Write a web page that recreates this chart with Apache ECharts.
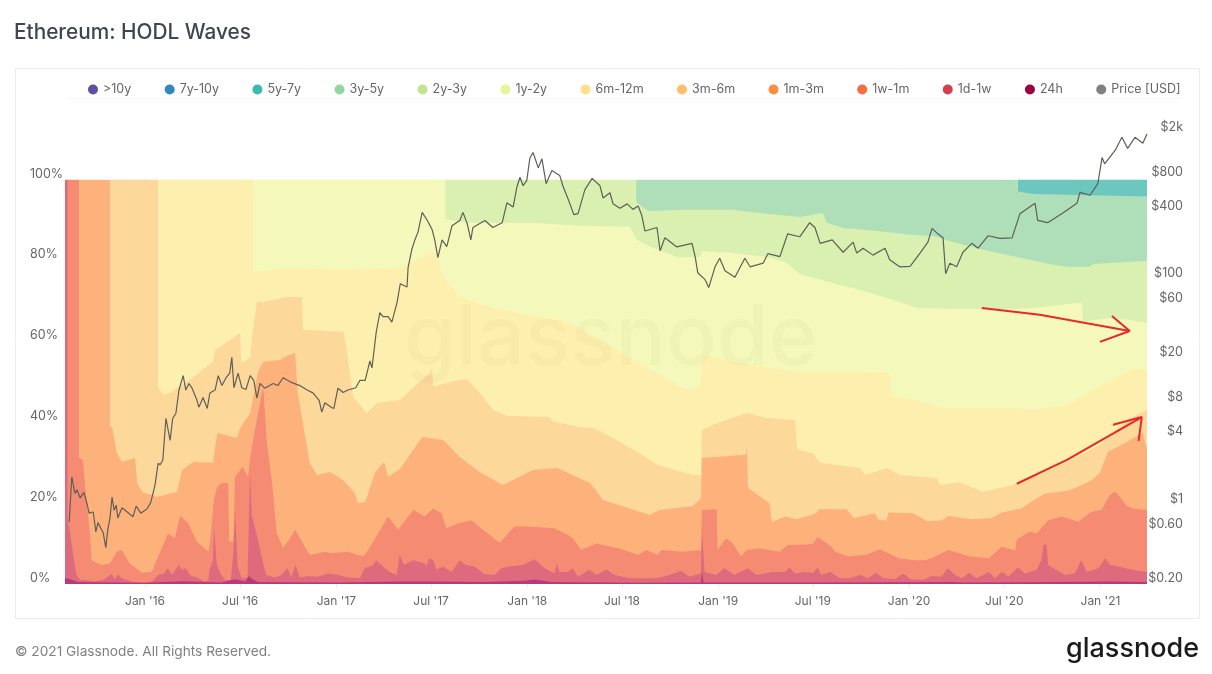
<!DOCTYPE html>
<html lang="en">

<head>
    <meta charset="utf-8">
    <title>Ethereum: HODL Waves</title>
    <script src="https://cdn.jsdelivr.net/npm/echarts@6/dist/echarts.min.js"></script>
    <style>
        html, body { margin: 0; padding: 0; background: #fff; }
    </style>
</head>

<body>
<div id="chart" style="width: 1212px;height:674px;"></div>

<script>
    // every series is [days since 2015-08-01, value]
    // wave values are the cumulative top edge of each age band in %, price is in USD
    const startDay = Date.UTC(2015, 7, 1);
    const lastDay = 2069;

    const legendNames = ['>10y', '7y-10y', '5y-7y', '3y-5y', '2y-3y', '1y-2y', '6m-12m', '3m-6m', '1m-3m', '1w-1m', '1d-1w', '24h', 'Price [USD]'];
    const tickDates = ['2016-01-01', '2016-07-01', '2017-01-01', '2017-07-01', '2018-01-01', '2018-07-01', '2019-01-01', '2019-07-01', '2020-01-01', '2020-07-01', '2021-01-01'];
    const tickNames = ["Jan '16", "Jul '16", "Jan '17", "Jul '17", "Jan '18", "Jul '18", "Jan '19", "Jul '19", "Jan '20", "Jul '20", "Jan '21"];
    const priceTicks = [0.2, 0.6, 1, 4, 8, 20, 60, 100, 400, 800, 2000];

    const band5y7y = [[1822, 100], [2069, 100]];
    const band3y5y = [[1092, 100], [1822, 100], [1822, 97.1], [1851, 96.5], [1960, 96.2], [2069, 95.9]];
    const band2y3y = [[727, 100], [1092, 100], [1092, 94.6], [1115, 92.3], [1182, 92.6], [1277, 92.6], [1342, 91.6], [1405, 90.8], [1449, 91.8], [1457, 89.4], [1488, 88.1], [1533, 87.6], [1583, 86.9], [1616, 86.4], [1660, 86.1], [1705, 84.4], [1755, 82.7], [1820, 80.9], [1883, 79.2], [1916, 78.5], [1960, 78.5], [1966, 79.2], [2069, 80]];
    const band1y2y = [[361, 100], [727, 100], [727, 90.3], [769, 89.4], [895, 89.4], [990, 88.6], [1080, 88.4], [1094, 85.1], [1124, 83.2], [1170, 80.9], [1214, 80.9], [1218, 82.4], [1277, 81.9], [1342, 80.9], [1377, 79.7], [1405, 76.7], [1468, 74.5], [1533, 72.3], [1596, 69.8], [1629, 68.3], [1692, 68.1], [1725, 68.1], [1788, 68], [1851, 68.3], [1941, 69.6], [1945, 69.6], [1946, 64.9], [1998, 65.8], [2036, 65.3], [2069, 64.6]];
    const band6m12m = [[178, 100], [361, 100], [361, 77.2], [424, 78.2], [526, 77.7], [641, 78.2], [679, 80.7], [704, 82.2], [717, 79], [723, 76], [755, 71], [799, 69], [870, 67], [960, 64.9], [990, 62.9], [1086, 55.4], [1182, 48.5], [1214, 48.5], [1218, 56.7], [1277, 55], [1342, 53.5], [1405, 52.5], [1488, 52.5], [1577, 52.2], [1581, 46.3], [1629, 45.5], [1679, 43.6], [1788, 43.6], [1851, 43.1], [1916, 44.3], [1979, 48.8], [2042, 53.2], [2069, 53]];
    const band3m6m = [[86, 100], [178, 100], [178, 48.8], [187, 46.8], [201, 47.3], [243, 51], [283, 55], [287, 57.9], [335, 62.1], [337, 54.7], [354, 55.9], [358, 61.6], [367, 69.8], [379, 69.8], [424, 71], [453, 71], [455, 62.9], [532, 62.4], [535, 61.1], [551, 46.3], [577, 42.3], [597, 44.8], [641, 45.5], [665, 48.5], [698, 52.2], [702, 53.5], [704, 48.8], [736, 50], [769, 50.7], [793, 47.3], [818, 43.1], [845, 41.6], [927, 41.3], [931, 40.3], [979, 38.9], [1010, 38.6], [1055, 35.6], [1113, 31.2], [1132, 29.5], [1201, 27], [1216, 27], [1218, 38.1], [1239, 39.4], [1304, 42.3], [1342, 41.1], [1396, 40.6], [1400, 33.2], [1430, 32.4], [1444, 30], [1520, 28.7], [1530, 27], [1572, 28.7], [1596, 27], [1667, 26.2], [1673, 24.5], [1711, 25.2], [1755, 22.8], [1813, 24.5], [1864, 27], [1916, 30.2], [1979, 34.4], [2017, 38.9], [2042, 41.3], [2069, 43.1]];
    const band1m3m = [[27, 100], [86, 100], [86, 38.9], [90, 38.9], [99, 32.4], [109, 30.2], [134, 31.2], [138, 25], [149, 22.5], [168, 22], [176, 21.5], [214, 22.8], [224, 28.2], [245, 30.2], [283, 30], [291, 37.4], [329, 36.1], [335, 38.6], [354, 42.3], [369, 52.5], [379, 55], [411, 55.4], [421, 56.2], [440, 57.2], [445, 47.3], [468, 30], [482, 27], [507, 27.7], [532, 25.7], [554, 22.5], [560, 20], [574, 20.3], [593, 27.5], [610, 30.2], [618, 26.5], [641, 28.5], [683, 36.4], [723, 35.6], [755, 31.4], [793, 27.7], [837, 24.5], [895, 28.2], [941, 28.7], [1004, 25], [1029, 20.8], [1080, 18.7], [1118, 17.1], [1137, 18.3], [1201, 19.3], [1210, 20.4], [1216, 21.3], [1218, 31.2], [1296, 31.9], [1302, 31.9], [1304, 33.9], [1306, 23.8], [1347, 20], [1352, 15.4], [1377, 16.7], [1399, 16], [1437, 17.5], [1441, 18.5], [1495, 18.5], [1508, 16.3], [1549, 17.5], [1555, 16], [1571, 15.7], [1574, 17.7], [1622, 17.5], [1648, 15.6], [1676, 15.7], [1689, 16.8], [1734, 16], [1772, 16.3], [1791, 17.7], [1829, 18.7], [1848, 20.4], [1874, 22.4], [1918, 23.1], [1938, 24.1], [1963, 25.7], [1979, 27.5], [1994, 32.7], [2027, 34.9], [2061, 37.4], [2069, 33.2]];
    const band1w1m = [[4, 100], [27, 100], [27, 31.2], [34, 30.7], [48, 11.7], [51, 5.9], [70, 4.7], [86, 5.1], [99, 8], [108, 8.4], [124, 5.1], [147, 2.8], [166, 3], [175, 5.9], [197, 12.5], [210, 11.3], [220, 16.8], [236, 15], [252, 10.5], [274, 8], [277, 10], [285, 21], [291, 24], [300, 25], [312, 25], [314, 10.5], [322, 10.5], [325, 26.5], [340, 29], [350, 26.5], [354, 31], [363, 38], [379, 48.8], [386, 35], [396, 25], [405, 12.5], [417, 9], [429, 11], [440, 13.4], [468, 7.2], [497, 8], [510, 7.6], [541, 8], [570, 6.8], [580, 8.4], [618, 16.7], [637, 13.4], [666, 18.3], [688, 16.7], [704, 18.7], [720, 17.5], [729, 13.8], [752, 15], [777, 15.8], [799, 13.4], [831, 10.2], [860, 14.2], [882, 14.2], [936, 13.8], [962, 12.1], [971, 11.3], [987, 8.4], [1016, 10], [1060, 8.8], [1096, 7.2], [1111, 8.4], [1134, 7.2], [1140, 8.4], [1181, 8], [1216, 8.4], [1218, 18.3], [1246, 18.5], [1248, 8.4], [1264, 11.3], [1277, 10], [1293, 6.8], [1303, 8.4], [1328, 8.8], [1366, 8], [1383, 9.7], [1415, 9.7], [1431, 10], [1439, 11.6], [1466, 9.2], [1473, 8], [1498, 6.8], [1530, 7.2], [1559, 8.6], [1594, 6.4], [1625, 5.9], [1645, 5.9], [1657, 6.4], [1689, 8.4], [1715, 7.4], [1730, 6.8], [1766, 6.4], [1791, 9.2], [1817, 8.3], [1820, 11], [1845, 13], [1858, 12.5], [1880, 15.8], [1906, 16.7], [1938, 15.4], [1963, 17.9], [1982, 18.3], [1998, 22], [2008, 22.9], [2017, 21.6], [2030, 19.3], [2043, 18.7], [2069, 18.3]];
    const band1d1w = [[0, 100], [5, 100], [5, 15.8], [10, 12.5], [16, 6.8], [22, 2.2], [29, 1], [38, 1], [57, 0.6], [73, 1], [80, 1.6], [89, 2.5], [96, 1.2], [101, 2.5], [108, 1.4], [127, 0.6], [150, 0.3], [167, 0.6], [178, 2.2], [188, 2.5], [197, 3.9], [205, 2.2], [217, 4.7], [223, 3.5], [231, 3.9], [239, 2.2], [252, 1.6], [268, 0.6], [274, 1], [277, 3.9], [283, 5.9], [285, 14], [290, 5.1], [296, 3], [306, 1], [317, 1], [322, 7.6], [325, 18], [330, 4.3], [338, 1.4], [349, 1.6], [352, 18], [354, 27.5], [357, 17], [367, 12], [379, 5.1], [385, 2.2], [401, 1.6], [414, 2.2], [425, 3.9], [433, 1.8], [441, 4.7], [449, 1.6], [465, 2], [484, 1.8], [503, 2.6], [522, 2.2], [541, 1.6], [564, 1.4], [573, 3.9], [589, 4.7], [595, 5.9], [605, 4.7], [621, 3], [634, 2.2], [640, 7.2], [648, 4.7], [666, 5.9], [688, 5.1], [691, 4.3], [696, 6.4], [704, 5.9], [710, 3.5], [723, 4.3], [739, 3], [755, 5.9], [767, 4.7], [783, 4.3], [802, 2.5], [822, 2.2], [834, 3.9], [850, 4.3], [876, 4.7], [898, 6.1], [917, 3.9], [936, 2.6], [941, 5.1], [945, 3], [962, 3], [971, 3.9], [981, 1.8], [1003, 3.6], [1016, 2.2], [1035, 3.6], [1051, 2.2], [1080, 1.4], [1105, 1.4], [1131, 1.4], [1150, 2], [1178, 3.3], [1194, 1.8], [1216, 2.6], [1218, 13], [1223, 3], [1245, 2.2], [1261, 3.9], [1280, 2.2], [1306, 3.9], [1322, 2.2], [1354, 3], [1377, 3], [1385, 4.1], [1396, 2.6], [1412, 3], [1431, 2.8], [1439, 4.1], [1446, 2.2], [1463, 3], [1482, 1.4], [1501, 1.4], [1520, 2.2], [1536, 1.4], [1550, 2.8], [1565, 1.4], [1587, 1.2], [1603, 2.6], [1616, 1.2], [1641, 1], [1657, 2], [1676, 1.8], [1688, 3.9], [1702, 2.2], [1715, 1.4], [1729, 2.8], [1743, 1.4], [1767, 3], [1778, 1.4], [1792, 3], [1804, 1.8], [1822, 4.1], [1836, 2.6], [1858, 3.5], [1867, 5.9], [1871, 9.7], [1877, 9.7], [1880, 4.7], [1890, 3.9], [1912, 2.2], [1931, 2.6], [1943, 5.9], [1954, 3], [1976, 3.9], [1989, 6.4], [1998, 4.7], [2014, 4.3], [2040, 3.5], [2069, 3]];
    const band24h = [[0, 1.5], [10, 1.2], [25, 0.5], [150, 0.3], [225, 0.7], [300, 0.4], [325, 1.2], [345, 0.6], [352, 2], [358, 1.2], [370, 0.5], [520, 0.4], [640, 0.6], [700, 0.6], [800, 0.5], [880, 0.8], [898, 1.1], [930, 0.5], [1100, 0.3], [1216, 0.4], [1218, 3], [1221, 0.4], [1430, 0.4], [1700, 0.5], [1720, 0.4], [1900, 0.5], [2000, 0.6], [2069, 0.5]];

    const price = [[8, 0.71], [10, 0.70], [13, 1.78], [19, 1.27], [23, 1.37], [29, 1.16], [36, 1.30], [42, 1.04], [46, 0.85], [54, 0.87], [59, 0.58], [63, 0.70], [73, 0.57], [78, 0.42], [82, 0.61], [86, 0.77], [90, 1.18], [94, 0.90], [98, 1.0], [101, 0.77], [109, 0.95], [119, 0.87], [130, 0.79], [136, 0.98], [145, 0.85], [157, 0.93], [164, 1.06], [172, 1.50], [178, 2.35], [182, 2.28], [187, 2.5], [193, 5.9], [201, 3.75], [206, 5.9], [212, 6.5], [218, 10.5], [226, 14.1], [231, 10.5], [237, 12], [243, 10.9], [252, 8.6], [256, 7.4], [264, 9.0], [272, 7.2], [277, 9.9], [287, 10.5], [293, 14.1], [300, 11.5], [308, 13.5], [315, 14.8], [319, 20.5], [323, 11], [331, 14.8], [338, 11], [346, 10.6], [354, 14.1], [361, 12.8], [367, 8.9], [373, 12], [382, 10.9], [398, 12], [407, 11.5], [417, 13.5], [434, 12.2], [449, 11.5], [463, 10.5], [474, 9.9], [486, 8.5], [491, 6.7], [497, 8.1], [509, 7.4], [514, 7.2], [522, 10.9], [532, 10], [541, 10.5], [556, 11], [564, 12.8], [574, 12.8], [583, 19], [587, 16.5], [595, 34], [602, 51], [608, 47], [618, 47], [625, 42], [635, 63], [641, 92], [654, 86], [656, 127], [663, 184], [669, 225], [675, 264], [683, 395], [692, 340], [702, 278], [707, 225], [713, 157], [721, 225], [730, 196], [740, 300], [755, 335], [761, 395], [769, 315], [776, 225], [780, 290], [803, 335], [818, 290], [836, 320], [845, 480], [857, 440], [864, 660], [870, 810], [876, 680], [883, 760], [889, 1200], [895, 1340], [905, 980], [912, 1180], [920, 710], [931, 930], [946, 840], [952, 680], [962, 520], [973, 377], [981, 385], [994, 625], [1008, 790], [1023, 680], [1029, 530], [1042, 590], [1048, 470], [1061, 430], [1075, 470], [1086, 420], [1096, 450], [1103, 370], [1109, 270], [1132, 290], [1138, 180], [1147, 235], [1170, 195], [1199, 210], [1205, 160], [1210, 115], [1224, 100], [1231, 85], [1243, 130], [1252, 155], [1262, 120], [1281, 105], [1300, 155], [1310, 130], [1335, 140], [1344, 170], [1367, 160], [1382, 255], [1405, 240], [1424, 320], [1434, 290], [1444, 210], [1467, 225], [1488, 175], [1507, 215], [1514, 172], [1526, 190], [1545, 165], [1568, 190], [1577, 150], [1596, 130], [1616, 131], [1635, 172], [1650, 215], [1658, 285], [1669, 255], [1679, 235], [1684, 113], [1692, 140], [1705, 130], [1717, 175], [1734, 210], [1746, 190], [1765, 245], [1788, 232], [1811, 235], [1826, 385], [1841, 430], [1855, 475], [1860, 335], [1879, 320], [1908, 390], [1935, 475], [1941, 595], [1960, 560], [1975, 710], [1983, 1210], [1988, 1065], [2008, 1400], [2021, 1830], [2032, 1460], [2046, 1830], [2061, 1620], [2069, 1960]];

    // hand drawn red arrows, same units as the wave bands
    const arrowDown = [[1753, 68.3], [1864, 66.6], [2036, 62.6]];
    const arrowDownHead = [[2002, 66.3], [2036, 62.6], [1979, 59.9]];
    const arrowUp = [[1820, 24.8], [1916, 30.7], [2059, 41.3]];
    const arrowUpHead = [[2004, 39.4], [2059, 41.3], [2053, 35.4]];

    const font = 'Inter';
    const tickTimes = tickDates.map(function (d) { return Date.parse(d); });

    function toTime(list) {
        return list.map(function (p) {
            return [startDay + p[0] * 86400000, p[1]];
        });
    }

    function bandSeries(name, legendColor, fillColor, data) {
        return {
            name: name,
            type: 'line',
            data: toTime(data),
            symbol: 'none',
            sampling: 'none',
            silent: true,
            itemStyle: {color: legendColor},
            lineStyle: {width: 0, color: fillColor},
            areaStyle: {color: fillColor, opacity: 1}
        };
    }

    function arrowSeries(data) {
        return {
            type: 'line',
            data: toTime(data),
            symbol: 'none',
            z: 6,
            silent: true,
            itemStyle: {color: '#e8282a'},
            lineStyle: {width: 2, color: '#e8282a'}
        };
    }

    let myChart = echarts.init(document.getElementById('chart'));

    let series = [
        bandSeries('>10y', '#5e4fa2', '#5e4fa2', []),
        bandSeries('7y-10y', '#3288bd', '#3288bd', []),
        bandSeries('5y-7y', '#3fb8ae', '#6cc7bf', band5y7y),
        bandSeries('3y-5y', '#94d6a0', '#aedfb9', band3y5y),
        bandSeries('2y-3y', '#c0e58c', '#d9f0b0', band2y3y),
        bandSeries('1y-2y', '#e6f598', '#f5f8bb', band1y2y),
        bandSeries('6m-12m', '#fee08b', '#fdf0ae', band6m12m),
        bandSeries('3m-6m', '#fdbf6f', '#fcd89a', band3m6m),
        bandSeries('1m-3m', '#fd8d3c', '#fdb27c', band1m3m),
        bandSeries('1w-1m', '#f46d43', '#f58b72', band1w1m),
        bandSeries('1d-1w', '#d53e4f', '#de6a7e', band1d1w),
        bandSeries('24h', '#9e0142', '#b83a7c', band24h),
        {
            name: 'Price [USD]',
            type: 'line',
            yAxisIndex: 1,
            data: toTime(price),
            symbol: 'none',
            sampling: 'none',
            z: 5,
            silent: true,
            itemStyle: {color: '#808080'},
            lineStyle: {width: 1.2, color: '#5f5f58'}
        },
        arrowSeries(arrowDown),
        arrowSeries(arrowDownHead),
        arrowSeries(arrowUp),
        arrowSeries(arrowUpHead)
    ];

    let option = {
        animation: false,
        backgroundColor: '#fff',
        textStyle: {fontFamily: font},
        title: {
            text: 'Ethereum: HODL Waves',
            left: 9,
            top: 17,
            textStyle: {fontFamily: font, fontSize: 20.8, fontWeight: 500, color: '#3f4650'}
        },
        legend: {
            data: legendNames,
            left: 83,
            top: 78,
            icon: 'circle',
            itemWidth: 10,
            itemHeight: 10,
            itemGap: 33.4,
            selectedMode: false,
            textStyle: {fontFamily: font, fontSize: 12.5, color: '#666'}
        },
        grid: {left: 65, right: 65, top: 99, bottom: 90},
        xAxis: {
            type: 'value',
            min: startDay,
            max: startDay + lastDay * 86400000,
            axisLine: {show: false},
            splitLine: {show: false},
            axisTick: {
                show: true,
                length: 4,
                lineStyle: {color: '#eeeeee'},
                customValues: tickTimes
            },
            axisLabel: {
                margin: 11,
                fontFamily: font,
                fontSize: 12,
                color: '#666',
                customValues: tickTimes,
                formatter: function (v) {
                    let i = tickTimes.indexOf(v);
                    return i < 0 ? '' : tickNames[i];
                }
            }
        },
        yAxis: [
            {
                type: 'value',
                min: 0,
                max: 120,
                interval: 20,
                axisLine: {show: false},
                axisTick: {show: false},
                splitLine: {show: false},
                axisLabel: {
                    margin: 35,
                    align: 'left',
                    verticalAlign: 'bottom',
                    lineHeight: 12,
                    fontFamily: font,
                    fontSize: 12.5,
                    color: '#666',
                    formatter: function (v) {
                        return v > 100 ? '' : v + '%';
                    }
                }
            },
            {
                type: 'log',
                logBase: 10,
                min: 0.2,
                max: 4000,
                axisLine: {show: false},
                axisTick: {show: false},
                splitLine: {show: false},
                axisLabel: {
                    margin: 36,
                    align: 'right',
                    verticalAlign: 'bottom',
                    lineHeight: 12,
                    fontFamily: font,
                    fontSize: 12.5,
                    color: '#666',
                    customValues: priceTicks,
                    formatter: function (v) {
                        if (v >= 1000) return '$' + Math.round(v / 1000) + 'k';
                        if (v < 1) return '$' + v.toFixed(2);
                        return '$' + Math.round(v);
                    }
                }
            }
        ],
        graphic: [
            {
                type: 'rect',
                z: -1,
                shape: {x: 15.5, y: 68.5, width: 1184, height: 550},
                style: {fill: '#fff', stroke: '#ececec', lineWidth: 1}
            },
            {
                type: 'line',
                z: -1,
                shape: {x1: 66, y1: 98.5, x2: 1180, y2: 98.5},
                style: {stroke: '#f7f7f7', lineWidth: 1}
            },
            {
                type: 'text',
                z: 4,
                x: 404,
                y: 298,
                silent: true,
                style: {text: 'glassnode', fill: 'rgba(90,70,40,0.028)', font: '500 84px Inter'}
            },
            {
                type: 'text',
                x: 15,
                y: 645,
                style: {text: '\u00a9 2021 Glassnode. All Rights Reserved.', fill: '#808080', font: '400 13.7px Inter'}
            },
            {
                type: 'text',
                x: 1066,
                y: 635,
                style: {text: 'glassnode', fill: '#1b1b1b', font: '500 27px Inter'}
            }
        ],
        series: series
    };
    myChart.setOption(option);
</script>
</body>
</html>
